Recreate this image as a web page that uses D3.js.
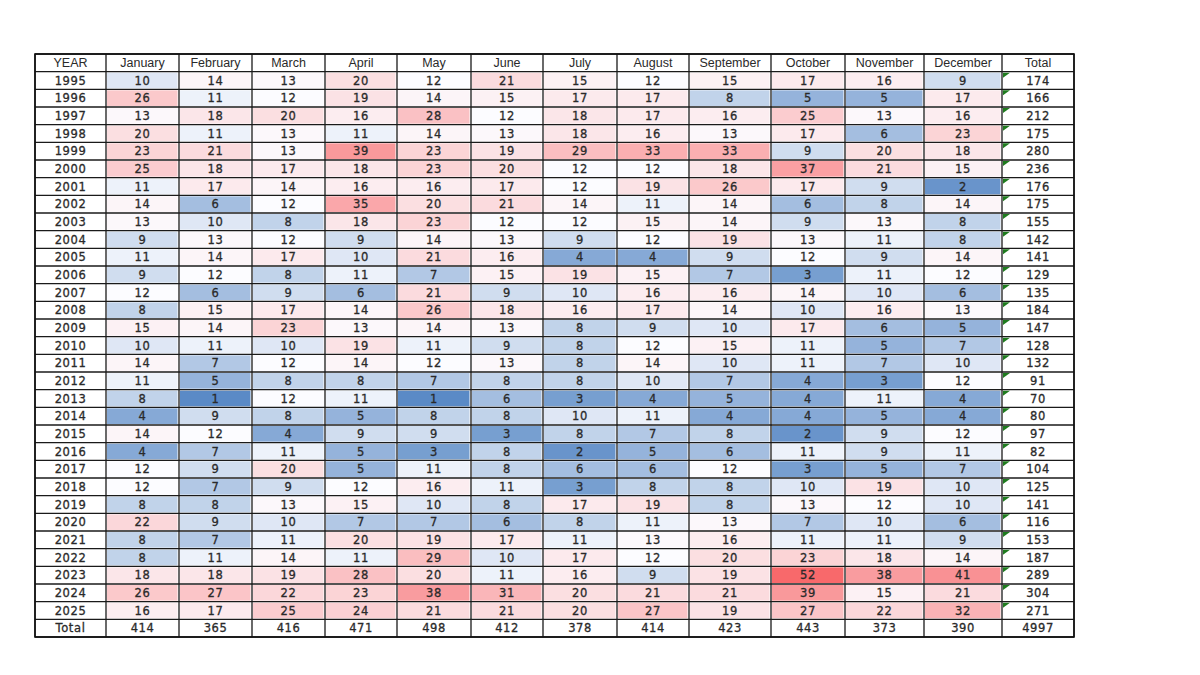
<!DOCTYPE html>
<html>
<head>
<meta charset="utf-8">
<script src="https://cdn.jsdelivr.net/npm/d3@7"></script>
<style>
  html, body { margin: 0; padding: 0; background: #fff; }
  svg { display: block; }
</style>
</head>
<body>
<div id="chart"></div>
<script>
// data
var years = ["1995","1996","1997","1998","1999","2000","2001","2002","2003","2004",
  "2005","2006","2007","2008","2009","2010","2011","2012","2013","2014","2015",
  "2016","2017","2018","2019","2020","2021","2022","2023","2024","2025"];
var months = ["January","February","March","April","May","June","July",
  "August","September","October","November","December"];
var counts = [
  [10,14,13,20,12,21,15,12,15,17,16,9],
  [26,11,12,19,14,15,17,17,8,5,5,17],
  [13,18,20,16,28,12,18,17,16,25,13,16],
  [20,11,13,11,14,13,18,16,13,17,6,23],
  [23,21,13,39,23,19,29,33,33,9,20,18],
  [25,18,17,18,23,20,12,12,18,37,21,15],
  [11,17,14,16,16,17,12,19,26,17,9,2],
  [14,6,12,35,20,21,14,11,14,6,8,14],
  [13,10,8,18,23,12,12,15,14,9,13,8],
  [9,13,12,9,14,13,9,12,19,13,11,8],
  [11,14,17,10,21,16,4,4,9,12,9,14],
  [9,12,8,11,7,15,19,15,7,3,11,12],
  [12,6,9,6,21,9,10,16,16,14,10,6],
  [8,15,17,14,26,18,16,17,14,10,16,13],
  [15,14,23,13,14,13,8,9,10,17,6,5],
  [10,11,10,19,11,9,8,12,15,11,5,7],
  [14,7,12,14,12,13,8,14,10,11,7,10],
  [11,5,8,8,7,8,8,10,7,4,3,12],
  [8,1,12,11,1,6,3,4,5,4,11,4],
  [4,9,8,5,8,8,10,11,4,4,5,4],
  [14,12,4,9,9,3,8,7,8,2,9,12],
  [4,7,11,5,3,8,2,5,6,11,9,11],
  [12,9,20,5,11,8,6,6,12,3,5,7],
  [12,7,9,12,16,11,3,8,8,10,19,10],
  [8,8,13,15,10,8,17,19,8,13,12,10],
  [22,9,10,7,7,6,8,11,13,7,10,6],
  [8,7,11,20,19,17,11,13,16,11,11,9],
  [8,11,14,11,29,10,17,12,20,23,18,14],
  [18,18,19,28,20,11,16,9,19,52,38,41],
  [26,27,22,23,38,31,20,21,21,39,15,21],
  [16,17,25,24,21,21,20,27,19,27,22,32]
];

// layout
var width = 1200, height = 675;
var tableLeft = 35, tableTop = 54, tableBottom = 637;
var colWidths = [71,73,73,73,72,74,72,74,72,82,74,79,78,72];

var columns = ["YEAR"].concat(months).concat(["Total"]);
var rows = ["head"].concat(years).concat(["Total"]);

var colX = {};
var acc = tableLeft;
columns.forEach(function (c, i) { colX[c] = acc; acc += colWidths[i]; });
var tableRight = acc;
var colW = function (c) { return colWidths[columns.indexOf(c)]; };

var y = d3.scaleBand()
    .domain(rows)
    .range([tableTop, tableBottom]);

// 3-colour scale like the spreadsheet: lowest blue, median white, highest red
var allValues = d3.merge(counts);
var color = d3.scaleLinear()
    .domain([d3.min(allValues), d3.quantile(allValues.slice().sort(d3.ascending), 0.5), d3.max(allValues)])
    .range(["#5a8ac6", "#fcfcff", "#f8696b"]);

var rowTotals = counts.map(function (r) { return d3.sum(r); });
var monthTotals = months.map(function (m, j) { return d3.sum(counts, function (r) { return r[j]; }); });
var grandTotal = d3.sum(rowTotals);

var svg = d3.select("#chart").append("svg")
    .attr("width", width)
    .attr("height", height);

// coloured month cells
var cells = [];
years.forEach(function (yr, i) {
  months.forEach(function (m, j) {
    cells.push({ year: yr, month: m, value: counts[i][j] });
  });
});

svg.append("g").selectAll("rect")
    .data(cells)
    .enter()
    .append("rect")
    .attr("x", d => colX[d.month] + 1)
    .attr("y", d => y(d.year) + 1)
    .attr("width", d => colW(d.month) - 2.5)
    .attr("height", y.bandwidth() - 2)
    .attr("fill", d => color(d.value));

// green corner marks in the total column
svg.append("g").selectAll("path")
    .data(years)
    .enter()
    .append("path")
    .attr("d", function (d) {
      var x0 = colX["Total"] + 1, y0 = y(d) + 1;
      return "M" + x0 + "," + y0 + "L" + (x0 + 7) + "," + y0 + "L" + x0 + "," + (y0 + 5) + "Z";
    })
    .attr("fill", "#1e7b1e");

// grid
var grid = svg.append("g")
    .attr("stroke", "#1a1a1a")
    .attr("stroke-width", 1.3);

grid.selectAll(".h")
    .data(rows.concat(["__end"]))
    .enter()
    .append("line")
    .attr("x1", tableLeft)
    .attr("x2", tableRight)
    .attr("y1", d => d === "__end" ? tableBottom : y(d))
    .attr("y2", d => d === "__end" ? tableBottom : y(d));

grid.selectAll(".v")
    .data(columns.concat(["__end"]))
    .enter()
    .append("line")
    .attr("y1", tableTop)
    .attr("y2", tableBottom)
    .attr("x1", d => d === "__end" ? tableRight : colX[d])
    .attr("x2", d => d === "__end" ? tableRight : colX[d]);

svg.append("rect")
    .attr("x", tableLeft)
    .attr("y", tableTop)
    .attr("width", tableRight - tableLeft)
    .attr("height", tableBottom - tableTop)
    .attr("fill", "none")
    .attr("stroke", "#111")
    .attr("stroke-width", 1.6);

// text
var texts = [];
columns.forEach(function (c) { texts.push({ row: "head", col: c, text: c, head: true }); });
years.forEach(function (yr, i) {
  texts.push({ row: yr, col: "YEAR", text: yr });
  months.forEach(function (m, j) { texts.push({ row: yr, col: m, text: counts[i][j] }); });
  texts.push({ row: yr, col: "Total", text: rowTotals[i] });
});
texts.push({ row: "Total", col: "YEAR", text: "Total" });
months.forEach(function (m, j) { texts.push({ row: "Total", col: m, text: monthTotals[j] }); });
texts.push({ row: "Total", col: "Total", text: grandTotal });

svg.append("g").selectAll("text")
    .data(texts)
    .enter()
    .append("text")
    .attr("x", d => colX[d.col] + colW(d.col) / 2)
    .attr("y", d => y(d.row) + y.bandwidth() / 2 + 4)
    .attr("text-anchor", "middle")
    .style("font-family", d => d.head ? "'Liberation Sans', Arial, sans-serif" : "'DejaVu Sans', Verdana, sans-serif")
    .style("font-size", d => d.head ? "12.5px" : "11.5px")
    .style("letter-spacing", d => d.head ? "0px" : "0.6px")
    .style("fill", "#2a2a2a")
    .style("stroke", d => d.head ? "none" : "#2a2a2a")
    .style("stroke-width", 0.3)
    .text(d => d.text);
</script>
</body>
</html>
